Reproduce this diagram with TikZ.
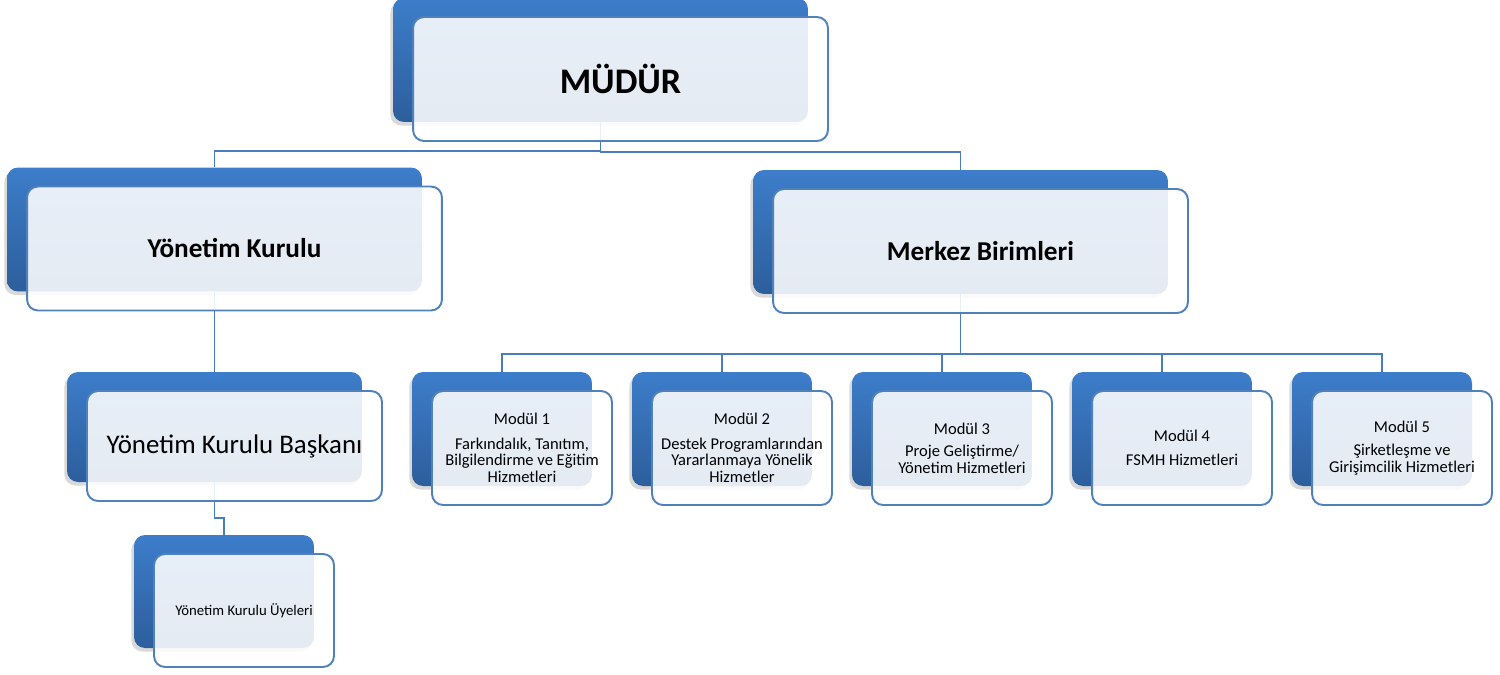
\documentclass[tikz,border=0pt]{standalone}
\usepackage{fontspec}
\setmainfont{Carlito}
\usepackage{tikz}
\usetikzlibrary{positioning,shadows}

\definecolor{boxblue}{HTML}{3D7DCA}
\definecolor{boxdark}{HTML}{2D5E9C}
\definecolor{rimblue}{HTML}{4F81BD}
\definecolor{linkblue}{HTML}{4A7EBB}

\tikzset{
  backbox/.style={rectangle,rounded corners=0.22cm,top color=boxblue,bottom color=boxdark,
    draw=none,drop shadow={shadow xshift=-1.5pt,shadow yshift=-2pt,opacity=0.3}},
  frontbox/.style={rectangle,rounded corners=0.22cm,draw=rimblue,line width=1.1pt,
    fill=white,fill opacity=0.88,text opacity=1,align=center},
  link/.style={draw=linkblue,line width=1.1pt},
  bigbox/.style={minimum width=8.3cm,minimum height=2.48cm},
  midbox/.style={minimum width=5.9cm,minimum height=2.2cm},
  smallbox/.style={minimum width=3.6cm,minimum height=2.28cm}
}

\begin{document}
\begin{tikzpicture}[x=0.02cm,y=-0.02cm]
    \useasboundingbox (0,0) rectangle (1500,674);

    % back boxes
    \node[backbox,bigbox] (mudur-b) at (600.5,60) {};
    \node[backbox,bigbox] (yk-b) at (214.5,229.5) {};
    \node[backbox,bigbox] (merkez-b) at (960.5,232) {};
    \node[backbox,midbox] (baskan-b) at (214.5,427) {};
    \node[backbox,smallbox,minimum height=2.26cm] (uye-b) at (224,591.5) {};
    \foreach \m/\x in {1/502,2/722,3/942,4/1162,5/1382}
        \node[backbox,smallbox] (m\m-b) at (\x,429) {};

    % connectors
    \draw[link] (mudur-b.south) -- ++(0,29) -| (yk-b.north);
    \draw[link] (mudur-b.south) -- ++(0,30) -| (merkez-b.north);
    \draw[link] (yk-b.south) -- (baskan-b.north);
    \draw[link] (baskan-b.south) -- ++(0,36) -| (uye-b.north);
    \foreach \m in {1,...,5}
        \draw[link] (merkez-b.south) -- ++(0,60) -| (m\m-b.north);

    % front boxes
    \node[frontbox,bigbox,font=\fontsize{20.5}{24}\selectfont\bfseries] (mudur)
        at ([shift={(20,19)}]mudur-b.center) {MÜDÜR};
    \node[frontbox,bigbox,font=\fontsize{15.5}{18}\selectfont\bfseries] (yk)
        at ([shift={(20,19)}]yk-b.center) {Yönetim Kurulu};
    \node[frontbox,bigbox,font=\fontsize{15.5}{18}\selectfont\bfseries] (merkez)
        at ([shift={(20,19)}]merkez-b.center) {Merkez Birimleri};
    \node[frontbox,midbox,font=\fontsize{15.3}{18}\selectfont] (baskan)
        at ([shift={(20,19)}]baskan-b.center) {Yönetim Kurulu Başkanı};
    \node[frontbox,smallbox,minimum height=2.26cm,font=\fontsize{8.4}{10}\selectfont] (uye)
        at ([shift={(20,19)}]uye-b.center) {Yönetim Kurulu Üyeleri};
    \node[frontbox,smallbox,font=\fontsize{9.4}{9.4}\selectfont] (m1)
        at ([shift={(20,19)}]m1-b.center)
        {Modül 1\\[4.5pt] Farkındalık, Tanıtım,\\ Bilgilendirme ve Eğitim\\ Hizmetleri};
    \node[frontbox,smallbox,font=\fontsize{9.4}{9.4}\selectfont] (m2)
        at ([shift={(20,19)}]m2-b.center)
        {Modül 2\\[4.5pt] Destek Programlarından\\ Yararlanmaya Yönelik\\ Hizmetler};
    \node[frontbox,smallbox,font=\fontsize{9.4}{9.4}\selectfont] (m3)
        at ([shift={(20,19)}]m3-b.center)
        {Modül 3\\[3.5pt] Proje Geliştirme/\\ Yönetim Hizmetleri};
    \node[frontbox,smallbox,font=\fontsize{9.4}{9.4}\selectfont] (m4)
        at ([shift={(20,19)}]m4-b.center)
        {Modül 4\\[4pt] FSMH Hizmetleri};
    \node[frontbox,smallbox,font=\fontsize{9.4}{9.4}\selectfont] (m5)
        at ([shift={(20,19)}]m5-b.center)
        {Modül 5\\[4pt] Şirketleşme ve\\ Girişimcilik Hizmetleri};
\end{tikzpicture}
\end{document}
